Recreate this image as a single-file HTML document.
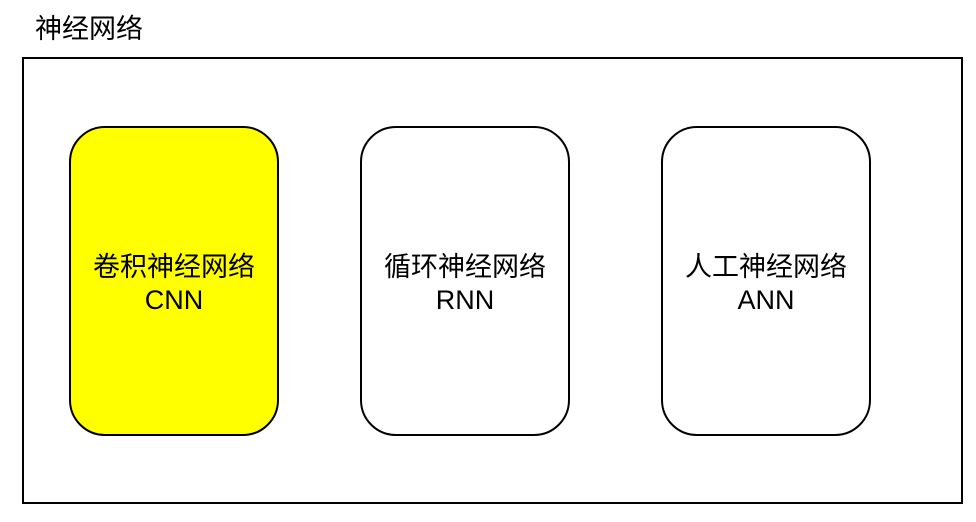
<!DOCTYPE html>
<html><head><meta charset="utf-8"><style>
html,body{margin:0;padding:0;background:#fff;}
body{width:976px;height:522px;position:relative;overflow:hidden;font-family:"Liberation Sans","Noto Sans CJK SC",sans-serif;}
.t{position:absolute;left:35px;top:11px;font-size:27px;line-height:36px;color:#000;}
.outer{position:absolute;left:22px;top:57px;width:941px;height:447px;border:2px solid #000;box-sizing:border-box;}
.n{position:absolute;top:126px;width:210px;height:310px;border:2px solid #000;border-radius:36px;box-sizing:border-box;display:flex;align-items:center;justify-content:center;text-align:center;font-size:27px;line-height:33px;padding-top:6px;}
</style></head><body>
<div class="t">神经网络</div>
<div class="outer"></div>
<div class="n" style="left:69px;background:#ffff00;">卷积神经网络<br>CNN</div>
<div class="n" style="left:360px;background:#fff;">循环神经网络<br>RNN</div>
<div class="n" style="left:661px;background:#fff;">人工神经网络<br>ANN</div>
</body></html>
